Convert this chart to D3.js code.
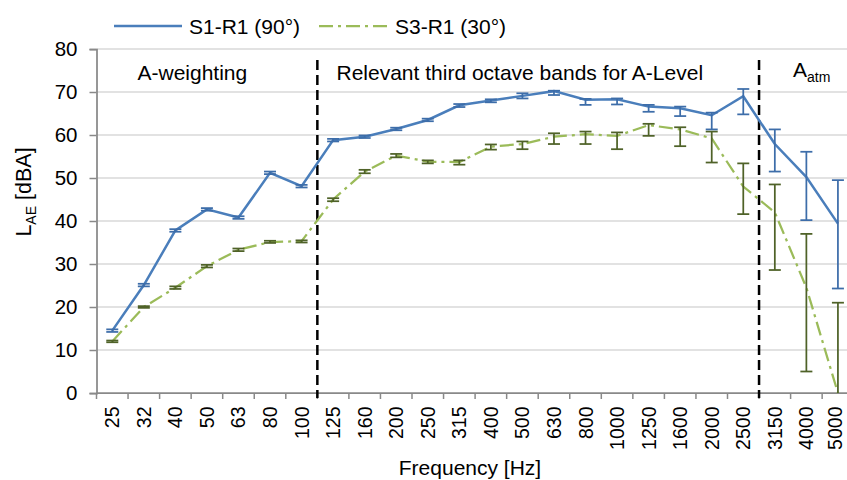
<!DOCTYPE html>
<html>
<head>
<meta charset="utf-8">
<script src="https://cdn.jsdelivr.net/npm/d3@7"></script>
<style>
  html, body { margin: 0; padding: 0; background: #fff; }
  svg { display: block; font-family: "Liberation Sans", Arial, sans-serif; }
</style>
</head>
<body>
<svg id="chart" width="847" height="480"></svg>
<script>
// Third-octave band centre frequencies (Hz)
const categories = ["25","32","40","50","63","80","100","125","160","200","250","315",
  "400","500","630","800","1000","1250","1600","2000","2500","3150","4000","5000"];

// S1-R1 (90°): level and error-bar bounds (dBA)
const s1Values = [14.5, 25.1, 37.8, 42.7, 40.8, 51.2, 48.1, 58.8, 59.6, 61.4, 63.5, 66.9,
  68.0, 69.1, 70.2, 68.2, 68.3, 66.6, 66.2, 64.6, 69.0, 57.9, 50.2, 39.4];
const s1Low = [14.2, 24.8, 37.5, 42.4, 40.5, 50.9, 47.8, 58.5, 59.3, 61.1, 63.2, 66.5,
  67.6, 68.5, 69.3, 67.0, 67.1, 65.4, 64.4, 61.3, 64.8, 51.5, 40.2, 24.3];
const s1High = [14.8, 25.4, 38.1, 43.0, 41.1, 51.5, 48.4, 59.1, 59.9, 61.7, 63.8, 67.2,
  68.3, 69.7, 70.3, 68.4, 68.5, 67.0, 66.6, 65.2, 70.7, 61.3, 56.1, 49.5];

// S3-R1 (30°): level and error-bar bounds (dBA)
const s3Values = [12.0, 20.0, 24.5, 29.5, 33.3, 35.1, 35.3, 45.0, 51.5, 55.2, 53.8, 53.7,
  57.3, 57.9, 59.6, 60.2, 59.8, 62.3, 61.3, 59.2, 48.0, 42.0, 24.5, 0.0];
const s3Low = [11.8, 19.8, 24.2, 29.2, 33.0, 34.9, 35.0, 44.6, 51.1, 54.8, 53.4, 53.1,
  56.6, 56.7, 57.9, 57.9, 56.7, 59.8, 57.4, 53.6, 41.6, 28.6, 5.0, 0.0];
const s3High = [12.2, 20.2, 24.8, 29.8, 33.6, 35.4, 35.5, 45.3, 51.9, 55.6, 54.1, 54.1,
  57.8, 58.5, 60.4, 60.8, 60.6, 62.6, 61.8, 60.8, 53.4, 48.5, 37.0, 21.0];

const yTicks = [0, 10, 20, 30, 40, 50, 60, 70, 80];

// Band boundaries where the dashed separators sit (after "100" and after "2500")
const separatorsAfter = ["100", "2500"];

const W = 847;
const svg = d3.select("#chart");
const plot = { left: 96.5, right: 853.7, top: 49, bottom: 393 };

const x = d3.scaleBand().domain(categories).range([plot.left, plot.right]).padding(0);
const y = d3.scaleLinear().domain([0, 80]).range([plot.bottom, plot.top]);
const cx = c => x(c) + x.bandwidth() / 2;

const blue = "#4a7ebb", blueErr = "#3d6da9";
const green = "#9bbb59", greenErr = "#4f6228";
const axisGray = "#898989", gridGray = "#d9d9d9";
const FS = 21;
const XFS = 19.5;

// Horizontal gridlines
svg.append("g").selectAll("line").data(yTicks.filter(t => t > 0)).join("line")
  .attr("x1", plot.left).attr("x2", W)
  .attr("y1", d => y(d)).attr("y2", d => y(d))
  .attr("stroke", gridGray).attr("stroke-width", 1.5);

// Y axis
const yAxis = svg.append("g").attr("transform", `translate(${plot.left},0)`)
  .call(d3.axisLeft(y).tickValues(yTicks).tickSize(7).tickPadding(12));
yAxis.select(".domain").attr("stroke", axisGray).attr("stroke-width", 1.75);
yAxis.selectAll(".tick line").attr("stroke", axisGray).attr("stroke-width", 1.5);
yAxis.selectAll(".tick text").attr("font-size", 20.5).attr("fill", "#000")
  .attr("font-family", "Liberation Sans, Arial, sans-serif");

// X axis: ticks at band boundaries, labels rotated (kept inside the svg's right edge)
const xAxisG = svg.append("g").attr("transform", `translate(0,${plot.bottom})`);
xAxisG.append("line").attr("x1", plot.left).attr("x2", W)
  .attr("y1", 0).attr("y2", 0).attr("stroke", axisGray).attr("stroke-width", 1.75);
xAxisG.selectAll("line.tk").data(categories).join("line").attr("class", "tk")
  .attr("x1", d => x(d)).attr("x2", d => x(d)).attr("y1", 0).attr("y2", 6)
  .attr("stroke", axisGray).attr("stroke-width", 1.5);
xAxisG.selectAll("text").data(categories).join("text")
  .attr("transform", d => `translate(${Math.min(cx(d) + 7, W - 0.22 * XFS - 0.5)},13.5) rotate(-90)`)
  .attr("text-anchor", "end").attr("font-size", XFS).attr("fill", "#000")
  .text(d => d);

// Dashed separators between regions
svg.append("g").selectAll("line").data(separatorsAfter).join("line")
  .attr("x1", d => x(d) + x.bandwidth()).attr("x2", d => x(d) + x.bandwidth())
  .attr("y1", 60).attr("y2", plot.bottom + 5)
  .attr("stroke", "#000").attr("stroke-width", 2.5).attr("stroke-dasharray", "10,5");

// Series lines
const line = vals => d3.line().x((d, i) => cx(categories[i])).y(d => y(d))(vals);
const dashDot = "14,5,3,5";

svg.append("path").attr("d", line(s3Values)).attr("fill", "none")
  .attr("stroke", green).attr("stroke-width", 2.25).attr("stroke-dasharray", dashDot);
svg.append("path").attr("d", line(s1Values)).attr("fill", "none")
  .attr("stroke", blue).attr("stroke-width", 2.5);

// Error bars
function errorBars(lo, hi, color, width) {
  const g = svg.append("g").attr("stroke", color).attr("stroke-width", width).attr("fill", "none");
  const idx = d3.range(categories.length);
  const cap = 6;
  g.selectAll("line.v").data(idx).join("line").attr("class", "v")
    .attr("x1", i => cx(categories[i])).attr("x2", i => cx(categories[i]))
    .attr("y1", i => y(lo[i])).attr("y2", i => y(hi[i]));
  g.selectAll("line.t").data(idx).join("line").attr("class", "t")
    .attr("x1", i => cx(categories[i]) - cap).attr("x2", i => cx(categories[i]) + cap)
    .attr("y1", i => y(hi[i])).attr("y2", i => y(hi[i]));
  g.selectAll("line.b").data(idx.filter(i => lo[i] > 0)).join("line").attr("class", "b")
    .attr("x1", i => cx(categories[i]) - cap).attr("x2", i => cx(categories[i]) + cap)
    .attr("y1", i => y(lo[i])).attr("y2", i => y(lo[i]));
}
errorBars(s3Low, s3High, greenErr, 1.75);
errorBars(s1Low, s1High, blueErr, 1.75);

// Region annotations
const ann = svg.append("g").attr("font-size", FS).attr("fill", "#000");
ann.append("text").attr("x", 137.5).attr("y", 80).text("A-weighting");
ann.append("text").attr("x", 336.5).attr("y", 80).text("Relevant third octave bands for A-Level");
const atm = ann.append("text").attr("x", 793).attr("y", 77);
atm.append("tspan").text("A");
atm.append("tspan").attr("font-size", 14).attr("dy", 5).text("atm");

// Axis titles
const yt = svg.append("text").attr("transform", "translate(31,192) rotate(-90)")
  .attr("text-anchor", "middle").attr("font-size", 21.5).attr("fill", "#000");
yt.append("tspan").text("L");
yt.append("tspan").attr("font-size", 14).attr("dy", 5).text("AE");
yt.append("tspan").attr("dy", -5).text(" [dBA]");

svg.append("text").attr("x", 470).attr("y", 475).attr("text-anchor", "middle")
  .attr("font-size", FS).attr("fill", "#000").text("Frequency [Hz]");

// Legend
const legend = svg.append("g").attr("font-size", 21).attr("fill", "#000");
legend.append("line").attr("x1", 114).attr("x2", 182).attr("y1", 26).attr("y2", 26)
  .attr("stroke", blue).attr("stroke-width", 2.5);
legend.append("text").attr("x", 189).attr("y", 34).text("S1-R1 (90°)");
legend.append("line").attr("x1", 319).attr("x2", 387).attr("y1", 26).attr("y2", 26)
  .attr("stroke", green).attr("stroke-width", 2.25).attr("stroke-dasharray", dashDot);
legend.append("text").attr("x", 395).attr("y", 34).text("S3-R1 (30°)");
</script>
</body>
</html>
